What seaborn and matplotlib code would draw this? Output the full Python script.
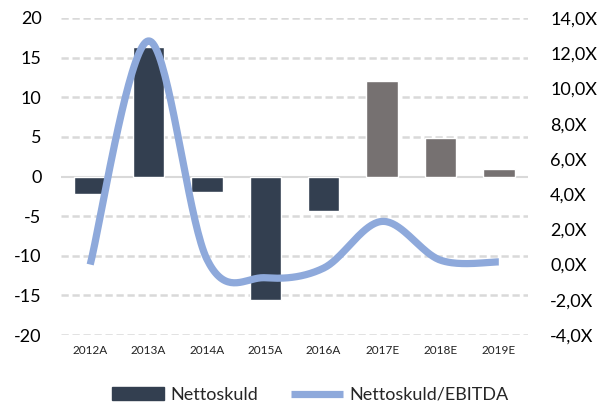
import numpy as np
import pandas as pd
import matplotlib
matplotlib.use("Agg")
import matplotlib.pyplot as plt
import seaborn as sns
from matplotlib.patches import Patch
from matplotlib.lines import Line2D

categories = ["2012A", "2013A", "2014A", "2015A", "2016A", "2017E", "2018E", "2019E"]
nettoskuld = [-2.2, 16.4, -1.9, -15.6, -4.4, 12.1, 4.8, 1.0]
ratio = [0.0, 12.7, 0.3, -0.75, -0.2, 2.45, 0.25, 0.15]
is_estimate = [False, False, False, False, False, True, True, True]
left_ticks = [-20, -15, -10, -5, 0, 5, 10, 15, 20]
right_ticks = [-4, -2, 0, 2, 4, 6, 8, 10, 12, 14]

C_ACT = "#333F50"
C_EST = "#767171"
C_LINE = "#8EA9DB"
C_GRID = "#D9D9D9"

sns.set_theme(style="white")
plt.rcParams["font.family"] = ["Lato", "DejaVu Sans"]

fig = plt.figure(figsize=(6.13, 4.09), dpi=100)
ax = fig.add_axes([61/613, 1-335/409, (528-61)/613, (335-18)/409])

df = pd.DataFrame({"cat": categories, "val": nettoskuld,
                   "kind": ["E" if e else "A" for e in is_estimate]})
sns.barplot(data=df, x="cat", y="val", hue="kind", palette={"A": C_ACT, "E": C_EST},
            width=0.54, dodge=False, legend=False, ax=ax, zorder=3, saturation=1)

ax.set_xlim(-0.5, len(categories) - 0.5)
ax.set_ylim(-20, 20)
ax.set_yticks(left_ticks)
ax.set_yticklabels([str(t) for t in left_ticks])
for t in left_ticks:
    if t == 0:
        ax.axhline(0, color=C_GRID, lw=1.5, zorder=2)
    else:
        ax.axhline(t, color=C_GRID, lw=1.8, ls=(0, (2.9, 1.5)), zorder=1)
for s in ax.spines.values():
    s.set_visible(False)
ax.set_xlabel("")
ax.set_ylabel("")
ax.tick_params(axis="y", length=0, pad=14, labelsize=13, labelcolor="#000000")
ax.tick_params(axis="x", length=0, pad=7, labelsize=8.5, labelcolor="#222222")

# secondary axis with smoothed line (Catmull-Rom through data points)
ax2 = ax.twinx()
ax2.set_ylim(-4, 14)
ax2.set_yticks(right_ticks)
ax2.set_yticklabels([f"{t:.1f}".replace(".", ",") + "X" for t in right_ticks])
for s in ax2.spines.values():
    s.set_visible(False)
ax2.tick_params(axis="y", length=0, pad=16, labelsize=13, labelcolor="#000000")
ax2.grid(False)

xs = np.arange(len(ratio), dtype=float)
ys = np.array(ratio, dtype=float)
px = np.concatenate([[xs[0]], xs, [xs[-1]]])
py = np.concatenate([[ys[0]], ys, [ys[-1]]])
cx, cy = [], []
tt = np.linspace(0, 1, 40)
for i in range(1, len(px) - 2):
    p0x, p1x, p2x, p3x = px[i-1], px[i], px[i+1], px[i+2]
    p0y, p1y, p2y, p3y = py[i-1], py[i], py[i+1], py[i+2]
    m1y = (p2y - p0y) / 2
    m2y = (p3y - p1y) / 2
    m1x = (p2x - p0x) / 2
    m2x = (p3x - p1x) / 2
    h00 = 2*tt**3 - 3*tt**2 + 1
    h10 = tt**3 - 2*tt**2 + tt
    h01 = -2*tt**3 + 3*tt**2
    h11 = tt**3 - tt**2
    cx.extend(h00*p1x + h10*m1x + h01*p2x + h11*m2x)
    cy.extend(h00*p1y + h10*m1y + h01*p2y + h11*m2y)
ax2.plot(cx, cy, color=C_LINE, lw=5.2, solid_capstyle="butt", zorder=5)

handles = [Patch(facecolor=C_ACT, edgecolor=C_ACT, label="Nettoskuld"),
           Line2D([0], [0], color=C_LINE, lw=5.2, solid_capstyle="butt",
                  label="Nettoskuld/EBITDA")]
fig.legend(handles=handles, loc="center", bbox_to_anchor=(310/613, 1-395/409), ncol=2,
           frameon=False, fontsize=13, handlelength=2.9, handletextpad=0.35,
           columnspacing=1.8, handleheight=0.7)

fig.savefig("out.png", dpi=100)
